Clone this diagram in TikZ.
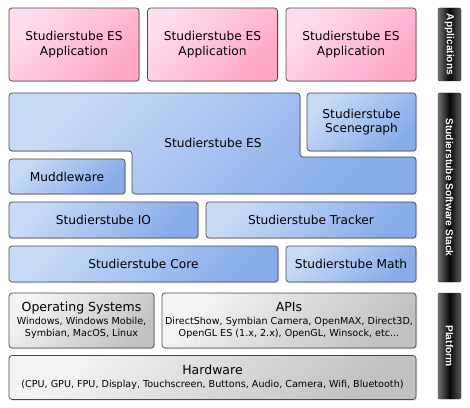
\documentclass[tikz,border=0pt]{standalone}
\usepackage{fontspec}
\setmainfont{DejaVu Sans}
\newfontfamily\barfont{Liberation Sans}
\usetikzlibrary{shadows}

\definecolor{appTop}{HTML}{FFDDEE}
\definecolor{appBot}{HTML}{FFA6C6}
\definecolor{stackTop}{HTML}{C8DAF6}
\definecolor{stackBot}{HTML}{86ACEA}
\definecolor{platTop}{HTML}{F4F4F4}
\definecolor{platBot}{HTML}{C2C2C2}
\definecolor{edge}{HTML}{4A4A4A}

\newcommand{\smalltext}{\fontsize{9.6}{11}\selectfont}

\tikzset{
  box/.style={draw=edge, line width=0.7pt, rounded corners=3pt, align=center, inner sep=0pt,
    drop shadow={shadow xshift=1pt, shadow yshift=-1pt, opacity=0.3},
    font=\fontsize{12.2}{14.5}\selectfont},
  appbox/.style={box, top color=appTop, bottom color=appBot, shading angle=45},
  stackbox/.style={box, top color=stackTop, bottom color=stackBot, shading angle=45},
  platbox/.style={box, top color=platTop, bottom color=platBot, shading angle=45},
  sidebar/.style={draw=black!85, rounded corners=1.5pt, inner sep=0pt,
    left color=black!55, right color=black!65, middle color=black!97,
    text=white, font=\barfont\bfseries\fontsize{10.2}{12}\selectfont, minimum width=23pt}
}

\begin{document}
\begin{tikzpicture}[x=1pt,y=1pt]
  \useasboundingbox (0,0) rectangle (470,407);

  % applications
  \foreach \name/\x in {app1/74, app2/212.5, app3/351} {
    \node[appbox, minimum width=130pt, minimum height=73pt] (\name) at (\x,362.5)
      {Studierstube ES\\Application};
  }

  % software stack
  \shade[stackbox] (9,314) -- (300,314) -- (300,250) -- (416,250) -- (416,213)
    -- (132,213) -- (132,256) -- (9,256) -- cycle;
  \node[font=\fontsize{12.2}{14.5}\selectfont] (es) at (213,264) {Studierstube ES};
  \node[stackbox, minimum width=109pt, minimum height=58pt] (scene) at (361.5,285)
    {Studierstube\\Scenegraph};
  \node[stackbox, minimum width=116pt, minimum height=35pt] (muddle) at (67,230.5) {Muddleware};
  \node[stackbox, minimum width=189pt, minimum height=36pt] (io) at (103.5,187) {Studierstube IO};
  \node[stackbox, minimum width=210pt, minimum height=36pt] (tracker) at (311,187) {Studierstube Tracker};
  \node[stackbox, minimum width=269pt, minimum height=36pt] (core) at (143.5,143) {Studierstube Core};
  \node[stackbox, minimum width=130pt, minimum height=36pt] (math) at (351,143) {Studierstube Math};

  % platform
  \node[platbox, minimum width=145pt, minimum height=55pt] (os) at (81.5,86.5)
    {{\fontsize{12.5}{14}\selectfont Operating Systems}\\[-1.5pt]
     {\smalltext Windows, Windows Mobile,}\\[-2.5pt]{\smalltext Symbian, MacOS, Linux}};
  \node[platbox, minimum width=254pt, minimum height=55pt] (apis) at (289,86.5)
    {{\fontsize{12.5}{14}\selectfont APIs}\\[-1.5pt]
     {\smalltext DirectShow, Symbian Camera, OpenMAX, Direct3D,}\\[-2.5pt]
     {\smalltext OpenGL ES (1.x, 2.x), OpenGL, Winsock, etc...}};
  \node[platbox, minimum width=407pt, minimum height=44pt] (hw) at (212.5,29.5)
    {{\fontsize{12.5}{14}\selectfont Hardware}\\[-1.5pt]
     {\smalltext (CPU, GPU, FPU, Display, Touchscreen, Buttons, Audio, Camera, Wifi, Bluetooth)}};

  % side labels
  \node[sidebar, minimum height=73pt] (lapps) at (449.5,362.5) {\rotatebox{-90}{Applications}};
  \node[sidebar, minimum height=189pt] (lstack) at (449.5,219.5) {\rotatebox{-90}{Studierstube Software Stack}};
  \node[sidebar, minimum height=106pt] (lplat) at (449.5,61) {\rotatebox{-90}{Platform}};
\end{tikzpicture}
\end{document}
